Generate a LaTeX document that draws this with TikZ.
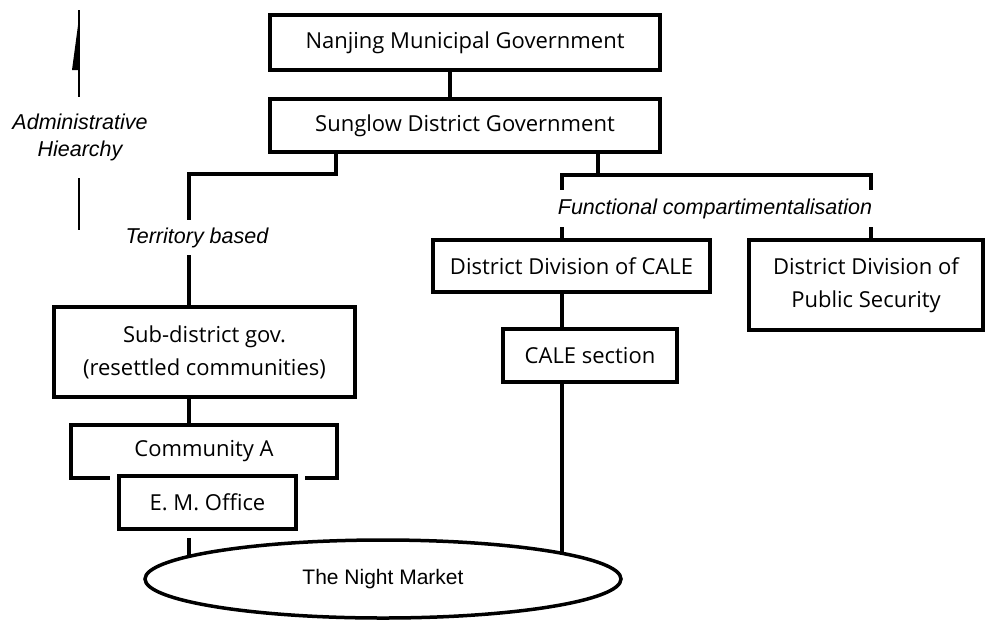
\documentclass[tikz,border=0pt]{standalone}
\usepackage{fontspec}
\setmainfont{Open Sans}
\newfontfamily\arialfont{Liberation Sans}
\usetikzlibrary{positioning,calc,backgrounds,shapes.geometric}

\begin{document}
\begin{tikzpicture}[
  x=1pt,y=-1pt,
  every node/.style={align=center},
  box/.style={rectangle,draw,line width=4pt,fill=white,inner sep=0pt,font=\fontsize{22}{33}\selectfont},
  tag/.style={inner sep=0pt,font=\arialfont\itshape\fontsize{21.5}{27}\selectfont},
  market/.style={ellipse,draw,line width=3.5pt,fill=white,inner sep=0pt,font=\arialfont\fontsize{21}{25}\selectfont},
  link/.style={line width=4pt},
  guide/.style={line width=1.6pt}
]
\useasboundingbox (0,0) rectangle (987,619);

% administrative chain
\node[box,minimum width=390pt,minimum height=55pt] (nan) at (465,42.5) {Nanjing Municipal Government};
\node[box,minimum width=390pt,minimum height=53pt,below=25pt of nan] (sun) {Sunglow District Government};

% territory side
\node[tag,minimum height=35pt] (terr) at (197,237.5) {Territory based};
\node[box,minimum width=301pt,minimum height=90pt] (sub) at (204.5,352) {Sub-district gov.\\(resettled communities)};
\node[box,minimum width=266pt,minimum height=53pt] (comA) at (204,451.5) {Community A};
\node[box,minimum width=177pt,minimum height=53pt,preaction={draw=white,line width=18pt}] (em) at (207.5,502.5) {E. M. Office};

% functional side
\node[tag,minimum height=37pt] (fun) at (715,208.5) {Functional compartimentalisation};
\node[box,minimum width=277pt,minimum height=52pt] (cale) at (571.5,266) {District Division of CALE};
\node[box,minimum width=234pt,minimum height=90pt] (sec) at (866,285) {District Division of\\Public Security};
\node[box,minimum width=174pt,minimum height=53pt] (sect) at (590,355.5) {CALE section};

\node[market,minimum width=476pt,minimum height=78pt] (mkt) at (383,579) {The Night Market};

% hierarchy marker
\node[tag,minimum height=81pt] (adm) at (80,137.5) {Administrative\\Hiearchy};
\coordinate (admtop) at (79,10);
\coordinate (admbot) at (79,230);
\draw[guide] (admtop) -- (admtop |- adm.north);
\fill ($(admtop)+(0,8)$) -- ($(admtop)+(-7,60)$) -- ($(admtop)+(0,60)$) -- cycle;
\draw[guide] (admtop |- adm.south) -- (admbot);

\coordinate (tl) at (189,174);
\coordinate (fl) at (562,175);
\coordinate (fr) at (871,175);

\begin{scope}[on background layer]
\draw[link] ([xshift=-15pt]nan.south) -- ([xshift=-15pt]sun.north);
\draw[link] ([xshift=-129pt]sun.south) |- (tl) -- (tl |- terr.north);
\draw[link] (tl |- terr.south) -- (tl |- sub.north);
\draw[link] (tl |- sub.south) -- (tl |- comA.north);
\draw[link] (tl |- em.south) -- (tl |- mkt.center);
\draw[link] ([xshift=133pt]sun.south) -- ([xshift=133pt]sun.south |- fl);
\draw[link] (fl |- fun.north) -- (fl) -- (fr) -- (fr |- fun.north);
\draw[link] (fl |- fun.south) -- (fl |- cale.north);
\draw[link] (fr |- fun.south) -- (fr |- sec.north);
\draw[link] (fl |- cale.south) -- (fl |- sect.north);
\draw[link] (fl |- sect.south) -- (fl |- mkt.center);
\end{scope}
\end{tikzpicture}
\end{document}
